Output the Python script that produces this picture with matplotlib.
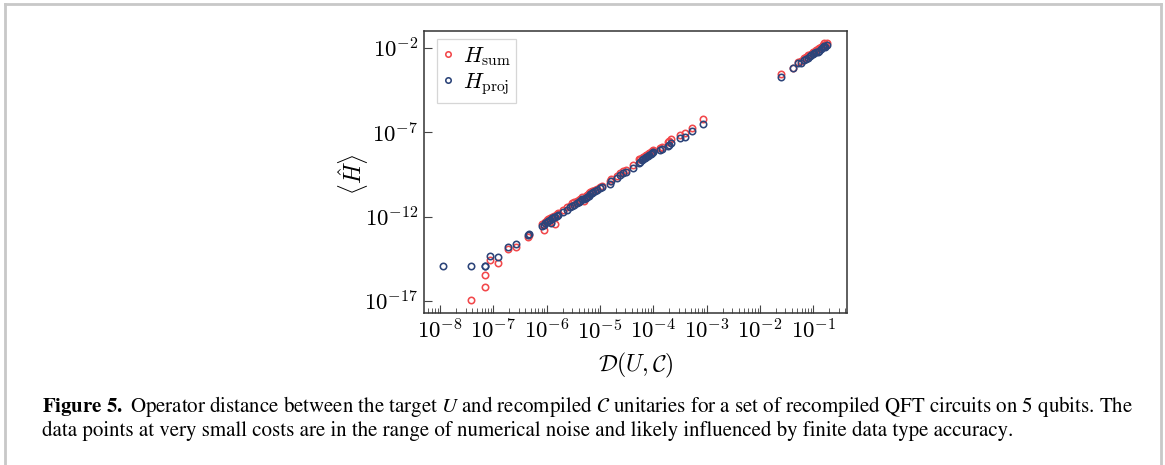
import numpy as np
import matplotlib
matplotlib.use("Agg")
import matplotlib.pyplot as plt
from matplotlib.lines import Line2D
from matplotlib.ticker import LogLocator, NullFormatter, NullLocator, FuncFormatter

plt.rcParams['mathtext.fontset'] = 'cm'
plt.rcParams['font.family'] = ['DejaVu Serif']

# log10 of operator distance D(U, C)
log_dist = [
    -7.94, -7.42, -7.16, -7.15, -7.06, -6.91, -6.73, -6.58, -6.35, -6.33,
    -6.09, -6.06, -6.03, -6.00, -5.97, -5.94, -5.92, -5.90, -5.86, -5.84,
    -5.81, -5.78, -5.69, -5.62, -5.56, -5.52, -5.48, -5.44, -5.40, -5.37,
    -5.33, -5.31, -5.27, -5.25, -5.21, -5.19, -5.15, -5.13, -5.09, -5.06,
    -5.00, -4.97, -4.81, -4.80, -4.69, -4.62, -4.57, -4.52, -4.39, -4.27,
    -4.25, -4.22, -4.19, -4.16, -4.13, -4.10, -4.08, -4.05, -4.02, -4.00,
    -3.87, -3.84, -3.73, -3.70, -3.67, -3.50, -3.41, -3.27, -3.07,
    -1.61, -1.39, -1.28, -1.24, -1.18, -1.14, -1.10, -1.07, -1.04, -1.01,
    -0.98, -0.95, -0.92, -0.89, -0.86, -0.82, -0.80, -0.78, -0.75,
]

# log10 <H> for the projector hamiltonian
log_h_proj = [
    -14.94, -14.94, -14.94, -14.94, -14.35, -14.40, -13.81, -13.65, -13.10, -13.02,
    -12.55, -12.48, -12.40, -12.30, -12.25, -12.20, -12.40, -12.10, -12.02, -12.00,
    -11.95, -11.88, -11.72, -11.60, -11.45, -11.35, -11.30, -11.20, -11.12, -11.08,
    -10.98, -10.95, -10.88, -10.82, -10.75, -10.68, -10.62, -10.55, -10.48, -10.42,
    -10.30, -10.25, -10.05, -9.90, -9.70, -9.52, -9.42, -9.35, -9.10, -8.80,
    -8.75, -8.65, -8.58, -8.52, -8.48, -8.40, -8.35, -8.30, -8.22, -8.18,
    -8.05, -7.98, -7.80, -7.72, -7.65, -7.35, -7.25, -6.92, -6.49,
    -3.69, -3.20, -2.90, -2.85, -2.70, -2.62, -2.55, -2.48, -2.42, -2.35,
    -2.30, -2.25, -2.20, -2.15, -2.05, -1.95, -1.85, -1.90, -1.82,
]

# log10 <H> for the sum hamiltonian (first point is zero -> not shown)
log_h_sum = [
    np.nan, -16.98, -15.48, -16.21, -14.60, -14.74, -13.95, -13.81, -13.21, -13.12,
    -12.45, -12.82, -12.30, -12.22, -12.15, -12.10, -12.30, -12.02, -11.95, -12.42,
    -11.85, -11.80, -11.62, -11.45, -11.35, -11.20, -11.15, -11.05, -11.00, -10.95,
    -10.85, -11.10, -10.75, -10.70, -10.62, -10.55, -10.50, -10.45, -10.40, -10.35,
    -10.22, -10.18, -9.88, -9.78, -9.58, -9.40, -9.30, -9.22, -8.95, -8.60,
    -8.55, -8.50, -8.45, -8.40, -8.35, -8.28, -8.22, -8.18, -8.10, -8.05,
    -7.90, -7.85, -7.55, -7.48, -7.42, -7.15, -7.05, -6.72, -6.23,
    -3.53, -3.15, -2.80, -2.75, -2.60, -2.50, -2.42, -2.38, -2.32, -2.25,
    -2.20, -2.12, -2.05, -2.00, -1.92, -1.80, -1.70, -1.78, -1.70,
]

dist = 10.0 ** np.array(log_dist)
h_sum = 10.0 ** np.array(log_h_sum)
h_proj = 10.0 ** np.array(log_h_proj)

red = '#f2484b'
blue = '#2c4479'

fig = plt.figure(figsize=(11.65, 4.65), dpi=100)
ax = fig.add_axes([0.364, 0.3275, 0.363, 0.606])

ax.plot(dist, h_sum, 'o', mfc='none', mec=red, ms=4.6, mew=1.15, label=r'$H_{\mathrm{sum}}$')
ax.plot(dist, h_proj, 'o', mfc='none', mec=blue, ms=4.6, mew=1.15, label=r'$H_{\mathrm{proj}}$')

ax.set_xscale('log')
ax.set_yscale('log')
ax.set_xlim(10 ** -8.3, 10 ** -0.37)
ax.set_ylim(10 ** -17.71, 10 ** -0.97)

pow_fmt = FuncFormatter(lambda v, _: r'$10^{%d}$' % int(round(np.log10(v))))
ax.xaxis.set_major_locator(LogLocator(base=10, numticks=20))
ax.xaxis.set_minor_locator(LogLocator(base=10, subs=np.arange(2, 10), numticks=20))
ax.xaxis.set_minor_formatter(NullFormatter())
ax.xaxis.set_major_formatter(pow_fmt)
ax.set_yticks([1e-17, 1e-12, 1e-7, 1e-2])
ax.yaxis.set_major_formatter(pow_fmt)
ax.yaxis.set_minor_locator(NullLocator())

ax.tick_params(axis='both', which='major', direction='in', length=6, width=0.8,
               color='#444444', labelsize=16.5, top=False, right=False)
ax.tick_params(axis='x', which='minor', direction='in', length=3.5, width=0.6,
               color='#444444', top=False)
ax.tick_params(axis='x', which='major', pad=5)
ax.tick_params(axis='y', which='major', pad=4)
for s in ax.spines.values():
    s.set_linewidth(1.1)
    s.set_color('#333333')

ax.set_xlabel(r'$\mathcal{D}(U,\mathcal{C})$', fontsize=17, labelpad=5)
ax.set_ylabel(r'$\langle\hat{H}\rangle$', fontsize=17)
ax.yaxis.set_label_coords(-0.128, 0.49)

leg = ax.legend(loc='upper left', bbox_to_anchor=(0.031, 0.97), borderaxespad=0,
                fontsize=16, frameon=True, fancybox=False, handlelength=0.5,
                handletextpad=0.4, borderpad=0.25, labelspacing=0.15, markerscale=0.85)
leg.get_frame().set_edgecolor('#cccccc')
leg.get_frame().set_linewidth(0.9)

# outer frame of the figure box
W, H = 1165.0, 465.0
frame = dict(color='#c8c8c8', lw=2.0, transform=fig.transFigure)
fig.add_artist(Line2D([5 / W, 1161 / W], [1 - 4 / H, 1 - 4 / H], **frame))
fig.add_artist(Line2D([5 / W, 5 / W], [0, 1 - 4 / H], **frame))
fig.add_artist(Line2D([1161 / W, 1161 / W], [0, 1 - 4 / H], **frame))

cap1 = (r'$\mathbf{Figure\ 5.}$ Operator distance between the target $U$ and recompiled '
        r'$\mathcal{C}$ unitaries for a set of recompiled QFT circuits on 5 qubits. The')
cap2 = ('data points at very small costs are in the range of numerical noise and likely '
        'influenced by finite data type accuracy.')
fig.text(42 / W, 1 - 406 / H, cap1, fontsize=15, family='STIXGeneral',
         math_fontfamily='stix', va='center', ha='left')
fig.text(42 / W, 1 - 431 / H, cap2, fontsize=15, family='STIXGeneral',
         math_fontfamily='stix', va='center', ha='left')

fig.savefig('out.png', dpi=100)
